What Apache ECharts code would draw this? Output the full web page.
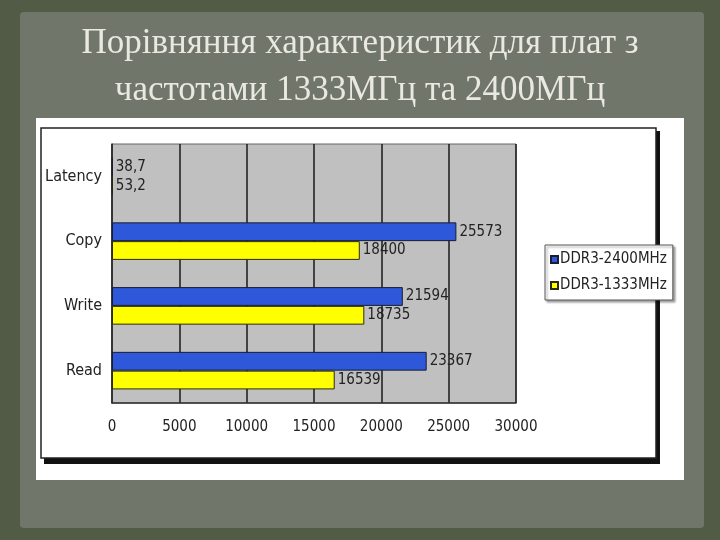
<!DOCTYPE html>
<html>
<head>
<meta charset="utf-8">
<script src="https://cdn.jsdelivr.net/npm/echarts@6/dist/echarts.min.js"></script>
<style>html,body{margin:0;padding:0;background:#525b46;}#c{width:720px;height:540px;}</style>
</head>
<body>
<div id="c"></div>
<script>
const titleText = 'Порівняння характеристик для плат з\nчастотами 1333МГц та 2400МГц';
const categories = ['Latency', 'Copy', 'Write', 'Read'];
const seriesNames = ['DDR3-2400MHz', 'DDR3-1333MHz'];
const ddr2400 = [38.7, 25573, 21594, 23367];
const ddr1333 = [53.2, 18400, 18735, 16539];
const xTicks = [0, 5000, 10000, 15000, 20000, 25000, 30000];

const narrow = '"Liberation Sans Narrow", "DejaVu Sans Condensed", "Liberation Sans", sans-serif';
const chart = echarts.init(document.getElementById('c'));
const fmt = p => String(p.value).replace('.', ',');
chart.setOption({
  backgroundColor: '#525b46',
  animation: false,
  title: {
    text: titleText,
    left: 'center',
    top: 15,
    textStyle: {
      fontFamily: '"Liberation Serif", "DejaVu Serif", serif',
      fontWeight: 'normal',
      fontSize: 35,
      lineHeight: 47,
      color: '#e9e9e1'
    }
  },
  graphic: {
    elements: [
      { type: 'rect', z: -100, shape: { x: 20, y: 12, width: 684, height: 516, r: 4 }, style: { fill: '#71766a' } },
      { type: 'rect', z: -99, shape: { x: 36, y: 118, width: 648, height: 362 }, style: { fill: '#ffffff' } },
      { type: 'rect', z: -98, shape: { x: 44, y: 131, width: 616, height: 333 }, style: { fill: '#111111' } },
      { type: 'rect', z: -97, shape: { x: 41, y: 128, width: 615, height: 330 }, style: { fill: '#ffffff', stroke: '#222222', lineWidth: 1.5 } }
    ]
  },
  legend: {
    orient: 'vertical',
    left: 545,
    top: 245,
    width: 108,
    padding: [7, 6, 7, 5],
    itemGap: 11,
    itemWidth: 7,
    itemHeight: 7,
    icon: 'rect',
    backgroundColor: '#ffffff',
    borderColor: '#555555',
    borderWidth: 1,
    shadowColor: 'rgba(0,0,0,0.35)',
    shadowOffsetX: 2,
    shadowOffsetY: 2,
    shadowBlur: 2,
    textStyle: { fontFamily: narrow, fontSize: 15, color: '#222', padding: [0, 0, 0, -3] },
    data: seriesNames
  },
  grid: {
    left: 112, top: 144, width: 404, height: 259,
    show: true,
    backgroundColor: '#c0c0c0',
    borderColor: '#666666',
    borderWidth: 1
  },
  xAxis: {
    type: 'value',
    min: xTicks[0],
    max: xTicks[xTicks.length - 1],
    interval: 5000,
    axisLine: { show: true, lineStyle: { color: '#333', width: 1.5 } },
    axisTick: { show: false },
    splitLine: { show: true, lineStyle: { color: '#1a1a1a', width: 1.5 } },
    axisLabel: { fontFamily: narrow, fontSize: 15, color: '#222', margin: 17, formatter: v => String(v) }
  },
  yAxis: {
    type: 'category',
    inverse: true,
    data: categories,
    axisLine: { show: true, lineStyle: { color: '#333', width: 1.5 } },
    axisTick: { show: false },
    axisLabel: { fontFamily: narrow, fontSize: 16, color: '#222', margin: 10 }
  },
  series: [
    {
      name: seriesNames[0], type: 'bar', data: ddr2400,
      barGap: '0%', barCategoryGap: '42%',
      itemStyle: { color: '#2d58da', borderColor: '#1c1c30', borderWidth: 1 },
      label: { show: true, position: 'right', distance: 3, formatter: fmt, fontFamily: narrow, fontSize: 15, color: '#222' }
    },
    {
      name: seriesNames[1], type: 'bar', data: ddr1333,
      barGap: '0%', barCategoryGap: '42%',
      itemStyle: { color: '#ffff00', borderColor: '#2a2a10', borderWidth: 1 },
      label: { show: true, position: 'right', distance: 3, formatter: fmt, fontFamily: narrow, fontSize: 15, color: '#222' }
    }
  ]
});
</script>
</body>
</html>
